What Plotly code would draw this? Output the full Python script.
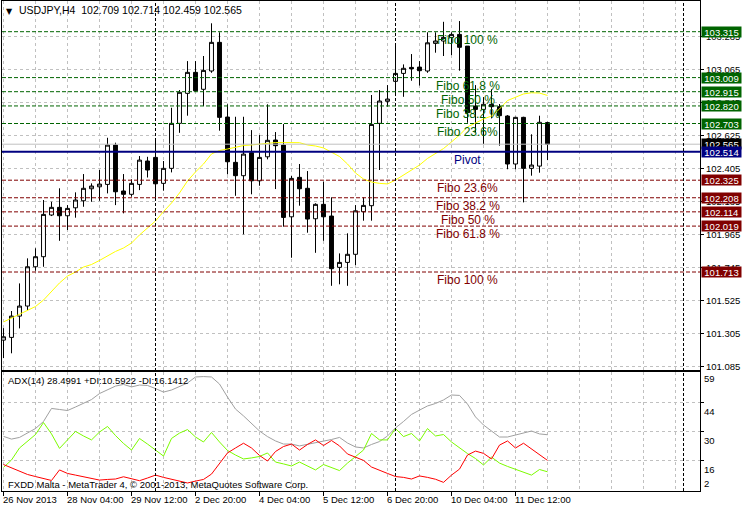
import plotly.graph_objects as go

# ---------------- data ----------------
opens = [101.259, 101.277, 101.419, 101.486, 101.748, 101.815, 102.093, 102.144, 102.088, 102.141,
         102.188, 102.268, 102.281, 102.297, 102.559, 102.253, 102.231, 102.297, 102.453, 102.477,
         102.304, 102.404, 102.704, 102.904, 103.044, 102.931, 103.053, 103.244, 102.746, 102.444,
         102.355, 102.508, 102.321, 102.481, 102.593, 102.559, 102.081, 102.344, 102.271, 102.068,
         102.164, 102.086, 101.744, 101.777, 101.831, 102.115, 102.155, 102.704, 102.851, 102.984,
         103.037, 103.077, 103.079, 103.053, 103.237, 103.253, 103.277, 103.297, 103.219, 102.819,
         102.797, 102.831, 102.815, 102.753, 102.433, 102.744, 102.404, 102.419, 102.709]
highs = [101.339, 101.453, 101.637, 101.804, 101.871, 102.193, 102.181, 102.271, 102.159, 102.244,
         102.366, 102.304, 102.393, 102.608, 102.575, 102.366, 102.331, 102.486, 102.481, 102.593,
         102.453, 102.808, 102.926, 103.119, 103.119, 103.153, 103.371, 103.311, 102.831, 102.748,
         102.748, 102.659, 102.626, 102.831, 102.646, 102.699, 102.353, 102.433, 102.386, 102.171,
         102.315, 102.211, 101.837, 101.971, 102.159, 102.211, 102.893, 102.926, 102.959, 103.231,
         103.097, 103.166, 103.119, 103.311, 103.311, 103.381, 103.311, 103.386, 103.219, 102.959,
         102.879, 102.931, 102.833, 102.759, 102.748, 102.748, 102.631, 102.755, 102.714]
lows = [101.139, 101.171, 101.337, 101.459, 101.721, 101.748, 102.086, 101.921, 101.993, 102.075,
        102.148, 102.181, 102.188, 102.237, 102.159, 102.104, 102.215, 102.259, 102.343, 102.204,
        102.255, 102.377, 102.641, 102.755, 102.915, 102.819, 103.041, 102.655, 102.364, 102.221,
        101.964, 102.231, 102.288, 102.464, 102.266, 102.015, 101.808, 102.155, 101.975, 101.841,
        101.921, 101.621, 101.631, 101.621, 101.759, 102.055, 102.055, 102.393, 102.815, 102.886,
        102.881, 102.988, 102.956, 103.041, 103.175, 103.153, 103.159, 103.055, 102.708, 102.644,
        102.566, 102.737, 102.555, 102.398, 102.398, 102.177, 102.355, 102.375, 102.459]
closes = [101.281, 101.419, 101.486, 101.748, 101.815, 102.097, 102.144, 102.088, 102.137, 102.193,
          102.271, 102.286, 102.299, 102.559, 102.248, 102.231, 102.304, 102.459, 102.393, 102.301,
          102.404, 102.704, 102.911, 103.044, 102.921, 103.057, 103.244, 102.744, 102.448, 102.355,
          102.499, 102.321, 102.477, 102.591, 102.555, 102.077, 102.337, 102.268, 102.066, 102.164,
          102.081, 101.735, 101.777, 101.831, 102.121, 102.157, 102.697, 102.853, 102.866, 103.037,
          103.071, 103.068, 103.055, 103.241, 103.253, 103.277, 103.297, 103.211, 102.775, 102.797,
          102.831, 102.815, 102.755, 102.433, 102.744, 102.404, 102.426, 102.711, 102.565]
ma = [101.380, 101.406, 101.433, 101.460, 101.483, 101.526, 101.586, 101.640, 101.686, 101.713,
      101.746, 101.763, 101.790, 101.820, 101.850, 101.873, 101.906, 101.960, 102.006, 102.053,
      102.116, 102.173, 102.240, 102.320, 102.380, 102.433, 102.500, 102.523, 102.533, 102.546,
      102.556, 102.560, 102.566, 102.575, 102.576, 102.576, 102.576, 102.575, 102.560, 102.553,
      102.540, 102.513, 102.483, 102.433, 102.373, 102.333, 102.313, 102.304, 102.300, 102.326,
      102.360, 102.390, 102.426, 102.470, 102.506, 102.536, 102.580, 102.626, 102.680, 102.706,
      102.733, 102.753, 102.800, 102.856, 102.880, 102.900, 102.908, 102.906, 102.890]
adx = [27.7, 26.4, 27.2, 29.3, 31.5, 34.9, 41.2, 40.7, 40.2, 41.9,
       43.8, 45.5, 48.4, 50.4, 52.0, 52.8, 51.6, 52.5, 52.3, 50.8,
       49.1, 50.1, 51.8, 53.5, 56.4, 56.6, 56.4, 53.0, 46.7, 40.9,
       37.6, 33.7, 30.3, 27.6, 25.5, 24.0, 24.0, 23.1, 23.8, 24.5,
       25.2, 26.2, 27.2, 24.5, 22.6, 22.1, 23.8, 25.2, 27.9, 31.8,
       34.9, 38.3, 40.4, 42.4, 43.6, 45.3, 47.7, 47.5, 43.3, 37.1,
       33.2, 30.1, 27.4, 27.4, 28.4, 29.6, 30.3, 28.9, 28.5]
plus_di = [12.7, 16.3, 22.1, 25.5, 28.6, 34.4, 28.9, 21.9, 26.2, 30.1,
           27.9, 26.0, 29.8, 32.5, 28.1, 24.3, 21.1, 26.7, 24.0, 20.9,
           18.2, 26.7, 29.3, 31.0, 27.4, 25.0, 29.6, 25.0, 20.9, 18.7,
           16.8, 17.3, 18.0, 19.7, 15.3, 14.4, 13.4, 15.3, 13.4, 11.5,
           14.1, 12.7, 11.2, 14.8, 18.0, 21.1, 29.1, 26.0, 26.0, 31.5,
           27.6, 29.1, 25.5, 31.5, 27.9, 28.6, 25.0, 22.1, 19.4, 17.0,
           13.9, 17.7, 14.8, 13.2, 11.7, 10.5, 9.0, 11.7, 10.6]
minus_di = [14.1, 12.4, 10.7, 9.3, 8.3, 7.5, 6.4, 11.5, 9.8, 9.0,
            8.2, 7.4, 6.6, 6.9, 7.1, 8.2, 7.4, 6.3, 7.6, 9.0,
            7.9, 6.9, 5.9, 5.2, 6.1, 6.9, 9.5, 14.4, 19.7, 22.1,
            24.4, 22.1, 18.5, 15.8, 20.4, 22.8, 24.0, 21.1, 23.8, 26.0,
            23.3, 25.7, 23.1, 19.2, 17.7, 16.1, 12.9, 11.5, 9.8, 8.3,
            7.9, 7.1, 8.6, 7.9, 7.0, 5.5, 9.0, 11.9, 18.7, 20.6,
            19.5, 16.8, 23.5, 25.5, 22.1, 24.4, 21.6, 18.7, 16.1]

time_label_idx = [0, 8, 16, 24, 32, 40, 48, 56, 64]
time_labels = ["26 Nov 2013", "28 Nov 04:00", "29 Nov 12:00", "2 Dec 20:00", "4 Dec 04:00",
               "5 Dec 12:00", "6 Dec 20:00", "10 Dec 04:00", "11 Dec 12:00"]
separator_idx = [19, 49, 85]

price_ticks = [101.085, 101.305, 101.525, 101.745, 101.965, 102.185, 102.405, 102.625, 102.845,
               103.065, 103.285]
adx_grid = [16, 30, 44]
adx_labels = [59, 44, 30, 16, 2]

fibo_up_levels = [103.315, 103.009, 102.915, 102.820, 102.703]
fibo_up_names = ["Fibo 100 %", "Fibo 61.8 %", "Fibo 50 %", "Fibo 38.2 %", "Fibo 23.6%"]
fibo_dn_levels = [102.325, 102.208, 102.114, 102.019, 101.713]
fibo_dn_names = ["Fibo 23.6%", "Fibo 38.2 %", "Fibo 50 %", "Fibo 61.8 %", "Fibo 100 %"]
pivot_level = 102.514
bid_level = 102.565

title_text = "USDJPY,H4\u00a0\u00a0102.709 102.714 102.459 102.565"
adx_text = "ADX(14) 28.4991 +DI:10.5922 -DI:16.1412"
footer_text = "FXDD Malta - MetaTrader 4, \u00a9 2001-2013, MetaQuotes Software Corp."

# ---------------- styles ----------------
W, H = 743, 509
ML, MR, MT, MB = 2, 43, 1, 18
PW, PH = W - ML - MR, H - MT - MB
FONT = "Liberation Sans, Arial, sans-serif"
GREEN = "#006400"
MAROON = "#800000"
NAVY = "#000080"
GRID = "#c0c0c0"

ADX_MAX = 59 - (372 - 371.6) / 2.07
ADX_MIN = 59 - (491 - 371.6) / 2.07


def px(x):
    return (x - ML) / PW


def py(y):
    return 1 - (y - MT) / PH


idx = list(range(len(opens)))
x_lo = (2 - 3.5) / 8
x_hi = (700 - 3.5) / 8

fig = go.Figure()
fig.add_trace(go.Candlestick(
    x=idx, open=opens, high=highs, low=lows, close=closes,
    increasing=dict(line=dict(color="black", width=1), fillcolor="white"),
    decreasing=dict(line=dict(color="black", width=1), fillcolor="black"),
    whiskerwidth=0, xaxis="x", yaxis="y", hoverinfo="skip", showlegend=False))
fig.add_trace(go.Scatter(x=idx, y=ma, mode="lines", line=dict(color="#ffff00", width=1),
                         xaxis="x", yaxis="y", hoverinfo="skip", showlegend=False))
fig.add_trace(go.Scatter(x=idx, y=adx, mode="lines", line=dict(color="#a0a0a0", width=1),
                         xaxis="x2", yaxis="y2", hoverinfo="skip", showlegend=False))
fig.add_trace(go.Scatter(x=idx, y=plus_di, mode="lines", line=dict(color="#7cfc00", width=1),
                         xaxis="x2", yaxis="y2", hoverinfo="skip", showlegend=False))
fig.add_trace(go.Scatter(x=idx, y=minus_di, mode="lines", line=dict(color="#ff0000", width=1),
                         xaxis="x2", yaxis="y2", hoverinfo="skip", showlegend=False))

main_bottom = py(370)
adx_top = py(372)

xcommon = dict(range=[x_lo, x_hi], showline=True, linecolor="black", linewidth=1, mirror=True,
               zeroline=False, showgrid=True, gridcolor=GRID, griddash="3px,3px", gridwidth=1,
               fixedrange=True,
               minor=dict(tick0=0, dtick=4, showgrid=True, gridcolor=GRID, griddash="3px,3px",
                          gridwidth=1, ticks=""))

fig.update_layout(
    width=W, height=H, margin=dict(l=ML, r=MR, t=MT, b=MB),
    paper_bgcolor="white", plot_bgcolor="white", showlegend=False,
    font=dict(family=FONT, size=9.5, color="black"),
    boxgap=0.3,
    xaxis=dict(domain=[0, 1], anchor="y", tickvals=time_label_idx, showticklabels=False, ticks="",
               rangeslider=dict(visible=False), **xcommon),
    xaxis2=dict(domain=[0, 1], anchor="y2", matches="x", tickvals=time_label_idx,
                ticktext=[""] * len(time_label_idx), ticks="outside", ticklen=4, tickcolor="black",
                showticklabels=False, **xcommon),
    yaxis=dict(domain=[main_bottom, 1], anchor="x", side="right",
               range=[103.5263 - 370 / 150, 103.5263 - 1 / 150],
               tickvals=price_ticks, ticktext=[f"{v:.3f}" for v in price_ticks],
               ticks="outside", ticklen=3, tickcolor="black",
               tickfont=dict(family=FONT, size=9.5, color="black"),
               showgrid=True, gridcolor=GRID, griddash="3px,3px", gridwidth=1,
               showline=True, linecolor="black", mirror=True, zeroline=False, fixedrange=True),
    yaxis2=dict(domain=[0, adx_top], anchor="x2", side="right",
                range=[ADX_MIN, ADX_MAX],
                tickvals=adx_grid, showticklabels=False, ticks="outside", ticklen=3,
                tickcolor="black",
                showgrid=True, gridcolor=GRID, griddash="3px,3px", gridwidth=1,
                showline=True, linecolor="black", mirror=True, zeroline=False, fixedrange=True),
)

shapes = []
for lv in fibo_up_levels:
    shapes.append(dict(type="line", xref="paper", x0=0, x1=1, yref="y", y0=lv, y1=lv,
                       line=dict(color=GREEN, width=1, dash="4px,2px"), layer="above"))
for lv in fibo_dn_levels:
    shapes.append(dict(type="line", xref="paper", x0=0, x1=1, yref="y", y0=lv, y1=lv,
                       line=dict(color=MAROON, width=1, dash="4px,2px"), layer="above"))
shapes.append(dict(type="line", xref="paper", x0=0, x1=1, yref="y", y0=bid_level, y1=bid_level,
                   line=dict(color=GRID, width=1), layer="above"))
shapes.append(dict(type="line", xref="paper", x0=0, x1=1, yref="y", y0=pivot_level, y1=pivot_level,
                   line=dict(color=NAVY, width=2), layer="above"))
for s in separator_idx:
    shapes.append(dict(type="line", xref="x", x0=s, x1=s, yref="paper", y0=0, y1=1,
                       line=dict(color="black", width=1, dash="3px,2px"), layer="above"))
fig.update_layout(shapes=shapes)

ann = []
# fibo text labels
for lv, nm in zip(fibo_up_levels, fibo_up_names):
    ann.append(dict(x=58, y=lv, xref="x", yref="y", text=nm, showarrow=False, xanchor="center",
                    yanchor="top", borderpad=0, yshift=0, font=dict(size=12, color=GREEN, family=FONT)))
for lv, nm in zip(fibo_dn_levels, fibo_dn_names):
    ann.append(dict(x=58, y=lv, xref="x", yref="y", text=nm, showarrow=False, xanchor="center",
                    yanchor="top", borderpad=0, yshift=0, font=dict(size=12, color=MAROON, family=FONT)))
ann.append(dict(x=58, y=pivot_level, xref="x", yref="y", text="Pivot", showarrow=False,
                xanchor="center", yanchor="top", borderpad=0, yshift=0,
                font=dict(size=12, color=NAVY, family=FONT)))

# price boxes on the right axis
boxes = [(lv, GREEN) for lv in fibo_up_levels] + [(lv, MAROON) for lv in fibo_dn_levels] + \
        [(bid_level, "black"), (pivot_level, NAVY)]
for lv, col in boxes:
    ann.append(dict(x=1, y=lv, xref="paper", yref="y", text=f"{lv:.3f}", showarrow=False,
                    xanchor="left", yanchor="middle", xshift=1, width=39, height=10, borderpad=0,
                    bgcolor=col, align="center", font=dict(size=9.5, color="white", family=FONT)))

# ADX scale labels
for v in adx_labels:
    yv = min(max(v, ADX_MIN), ADX_MAX)
    if v == adx_labels[-1]:
        ann.append(dict(x=1, y=yv, xref="paper", yref="y2", text=str(v), showarrow=False,
                        xanchor="left", yanchor="bottom", xshift=3, borderpad=0,
                        font=dict(size=9.5, color="black", family=FONT)))
    else:
        ann.append(dict(x=1, y=yv, xref="paper", yref="y2", text=str(v), showarrow=False,
                        xanchor="left", yanchor="top", xshift=3,
                        yshift=0 if v == adx_labels[0] else -2, borderpad=0,
                        font=dict(size=9.5, color="black", family=FONT)))

# time labels
for i, t in zip(time_label_idx, time_labels):
    ann.append(dict(x=i, y=py(493), xref="x", yref="paper", text=t, showarrow=False,
                    xanchor="left", yanchor="top", xshift=-2, borderpad=0,
                    font=dict(size=9.5, color="black", family=FONT)))

# texts in panes
ann.append(dict(x=px(9), y=py(11), xref="paper", yref="paper", text="\u25bc", showarrow=False,
                xanchor="center", yanchor="middle", borderpad=0,
                font=dict(size=8, color="black", family="DejaVu Sans")))
ann.append(dict(x=px(18), y=py(10), xref="paper", yref="paper", text=title_text, showarrow=False,
                xanchor="left", yanchor="middle", borderpad=0,
                font=dict(size=10.5, color="black", family=FONT)))
ann.append(dict(x=px(7), y=py(380.7), xref="paper", yref="paper", text=adx_text, showarrow=False,
                xanchor="left", yanchor="middle", borderpad=0,
                font=dict(size=9.5, color="black", family=FONT)))
ann.append(dict(x=px(7), y=py(484.3), xref="paper", yref="paper", text=footer_text, showarrow=False,
                xanchor="left", yanchor="middle", borderpad=0,
                font=dict(size=9.5, color="black", family=FONT)))

fig.update_layout(annotations=ann)
fig.write_html("out.html", config={"displayModeBar": False, "staticPlot": True},
               post_script="document.body.style.margin='0';document.body.style.overflow='hidden';")
